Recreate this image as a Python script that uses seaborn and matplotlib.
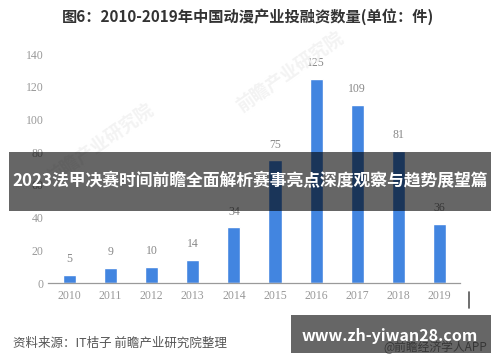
import matplotlib
matplotlib.use("Agg")
import matplotlib.pyplot as plt
import seaborn as sns
import pandas as pd
from matplotlib.patches import Rectangle

years = ["2010", "2011", "2012", "2013", "2014", "2015", "2016", "2017", "2018", "2019"]
counts = [5, 9, 10, 14, 34, 75, 125, 109, 81, 36]
yticks = [0, 20, 40, 60, 80, 100, 120, 140]

title = "图6：2010-2019年中国动漫产业投融资数量(单位：件)"
banner = "2023法甲决赛时间前瞻全面解析赛事亮点深度观察与趋势展望篇"
source = "资料来源：IT桔子 前瞻产业研究院整理"
site = "www.zh-yiwan28.com"
app = "@前瞻经济学人APP"

sns.set_theme(style="white")
plt.rcParams['font.family'] = ['Noto Sans CJK SC', 'DejaVu Sans']

df = pd.DataFrame({"year": years, "count": counts})

fig = plt.figure(figsize=(5, 3.62), dpi=100)
ax = fig.add_axes([0.096, 0.2182, 0.824, 0.6326])

sns.barplot(data=df, x="year", y="count", color="#4285E0", saturation=1,
            width=0.32, ax=ax)

ax.set_xlim(-0.52, 9.5)
ax.set_ylim(0, 140)
ax.set_yticks(yticks)
ax.set_xlabel("")
ax.set_ylabel("")
for s in ["top", "right", "left"]:
    ax.spines[s].set_visible(False)
ax.spines["bottom"].set_color("#9a9a9a")
ax.spines["bottom"].set_linewidth(0.9)
ax.tick_params(axis="both", length=0, colors="#999999", labelsize=8.5)
ax.tick_params(axis="y", pad=3)
ax.tick_params(axis="x", pad=5)
for lab in ax.get_xticklabels() + ax.get_yticklabels():
    lab.set_fontfamily("Liberation Serif")

for i, v in enumerate(counts):
    ax.text(i, v + 6, str(v), ha="center", va="bottom", color="#888888",
            fontsize=8.5, fontfamily="Liberation Serif", clip_on=False)

# faint watermarks
for (x, y) in [(0.2, 0.6), (0.58, 0.8)]:
    fig.text(x, y, "前瞻产业研究院", rotation=35, color="#f3f3f3", fontsize=13,
             fontweight="bold", ha="center", va="center", zorder=0)

fig.text(0.496, 1 - 17 / 362, title, ha="center", va="center", fontsize=11,
         fontweight="bold", color="#333333")

# banner overlay
fig.patches.append(Rectangle((9 / 500, 1 - 211 / 362), 482 / 500, 59 / 362,
                             transform=fig.transFigure, facecolor="black",
                             alpha=0.6, edgecolor="none", zorder=5))
fig.text(0.5, 1 - 181 / 362, banner, ha="center", va="center", fontsize=12.1,
         fontweight="bold", color="white", zorder=6)

fig.text(13 / 500, 1 - 343 / 362, source, ha="left", va="center",
         fontsize=9, color="#555555")

fig.lines.append(plt.Line2D([469 / 500, 469 / 500], [1 - 292 / 362, 1 - 308 / 362],
                            transform=fig.transFigure, color="#555555", lw=1.2))

fig.text(383 / 500, 1 - 347 / 362, app, ha="left", va="center", fontsize=8.5,
         color="#888888", zorder=4)
fig.patches.append(Rectangle((291 / 500, 1 - 353 / 362), 200 / 500, 38 / 362,
                             transform=fig.transFigure, facecolor="black",
                             alpha=0.6, edgecolor="none", zorder=5))
fig.text(390 / 500, 1 - 336 / 362, site, ha="center", va="center",
         fontsize=11.5, fontweight="bold", color="white", zorder=6)

fig.savefig("out.png", dpi=100)
